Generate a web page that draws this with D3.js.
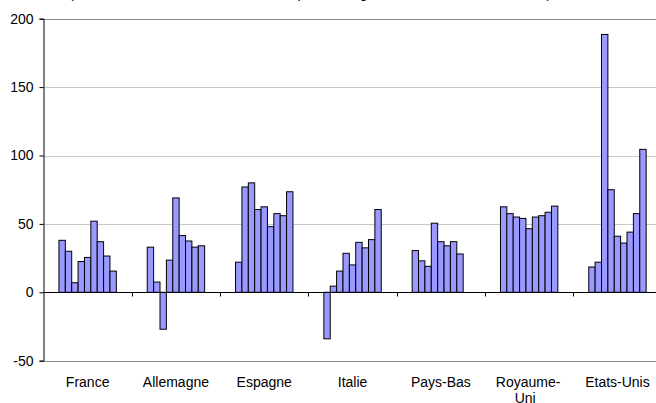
<!DOCTYPE html>
<html>
<head>
<meta charset="utf-8">
<script src="https://cdn.jsdelivr.net/npm/d3@7"></script>
<style>
  html, body { margin: 0; padding: 0; background: #fff; }
  svg { display: block; font-family: Arial, "Liberation Sans", sans-serif; }
</style>
</head>
<body>
<svg id="chart" width="656" height="403"></svg>
<script>
// Pays et séries annuelles (9 valeurs par pays, la dernière manque pour les Pays-Bas)
const countries = ["France", "Allemagne", "Espagne", "Italie", "Pays-Bas", "Royaume-Uni", "Etats-Unis"];
const france     = [38, 30, 7, 22.5, 25.5, 52, 37, 26.5, 15.5];
const allemagne  = [33, 7.5, -27, 23.5, 69, 41.5, 37.5, 33, 34];
const espagne    = [22, 77, 80, 60.5, 62.5, 48, 57.5, 56, 73.5];
const italie     = [-34, 4.5, 15.5, 28.5, 20, 36.5, 32.5, 38.5, 60.5];
const paysBas    = [30.5, 23, 19, 50.5, 37, 34, 37, 28, null];
const royaumeUni = [62.5, 57.5, 55, 54, 46.5, 55, 56, 58.5, 63];
const etatsUnis  = [18.5, 22, 188.5, 75, 41, 36, 44, 57.5, 104.5];
const seriesValues = [france, allemagne, espagne, italie, paysBas, royaumeUni, etatsUnis];
const yTicks = [-50, 0, 50, 100, 150, 200];
const titleText = "(Variation des crédits immobiliers en pourcentage du revenu, de 1995 à 2004)";

const svg = d3.select("#chart");

const left = 43.5, catWidth = 88.3;
const x = d3.scaleBand()
  .domain(countries)
  .range([left, left + catWidth * countries.length])
  .paddingInner(0).paddingOuter(0);

const y = d3.scaleLinear().domain([-50, 200]).range([360.7, 18.7]);

// bars inside each category: 9 slots, centred, occupying ~65% of the band
const groupWidth = 57.4;
const x1 = d3.scaleBand()
  .domain(d3.range(9))
  .range([-groupWidth / 2, groupWidth / 2])
  .paddingInner(0).paddingOuter(0);

// horizontal gridlines
svg.append("g")
  .selectAll("line")
  .data([50, 100, 150])
  .join("line")
  .attr("x1", left).attr("x2", 660)
  .attr("y1", d => Math.round(y(d)) + 0.5).attr("y2", d => Math.round(y(d)) + 0.5)
  .attr("stroke", "#c8c8c8").attr("stroke-width", 1);

// plot area border at top and bottom
svg.append("g")
  .selectAll("line")
  .data([200, -50])
  .join("line")
  .attr("x1", left).attr("x2", 660)
  .attr("y1", d => Math.round(y(d)) + 0.5).attr("y2", d => Math.round(y(d)) + 0.5)
  .attr("stroke", "#8a8a8a").attr("stroke-width", 1);

// bars
const groups = svg.append("g")
  .selectAll("g")
  .data(countries.map((c, i) => ({ country: c, values: seriesValues[i] })))
  .join("g")
  .attr("transform", d => `translate(${x(d.country) + x.bandwidth() / 2},0)`);

groups.selectAll("rect")
  .data(d => d.values.map((v, j) => ({ v, j })).filter(e => e.v !== null))
  .join("rect")
  .attr("x", e => x1(e.j))
  .attr("width", x1.bandwidth())
  .attr("y", e => y(Math.max(0, e.v)))
  .attr("height", e => Math.abs(y(e.v) - y(0)))
  .attr("fill", "#9999ff")
  .attr("stroke", "#000")
  .attr("stroke-width", 1);

// y axis (plain hyphen for negative values)
const yAxis = d3.axisLeft(y).tickValues(yTicks).tickSize(4).tickPadding(6)
  .tickFormat(d => String(d));
const gy = svg.append("g")
  .attr("transform", `translate(${left},0)`)
  .call(yAxis);
gy.select(".domain").attr("stroke", "#000");
gy.selectAll(".tick line").attr("stroke", "#000");
gy.selectAll(".tick text")
  .attr("font-size", 14)
  .attr("font-family", "Arial, 'Liberation Sans', sans-serif")
  .attr("fill", "#000");

// x axis along zero, category ticks pointing down
const y0 = Math.round(y(0)) + 0.5;
svg.append("line")
  .attr("x1", left).attr("x2", 660)
  .attr("y1", y0).attr("y2", y0)
  .attr("stroke", "#000");
svg.append("g")
  .selectAll("line")
  .data(countries.slice(1))
  .join("line")
  .attr("x1", d => Math.round(x(d)) + 0.5).attr("x2", d => Math.round(x(d)) + 0.5)
  .attr("y1", y0).attr("y2", y0 + 4)
  .attr("stroke", "#000");

// category labels along the bottom
const labels = svg.append("g")
  .selectAll("text")
  .data(countries)
  .join("text")
  .attr("x", d => x(d) + x.bandwidth() / 2)
  .attr("y", 387)
  .attr("text-anchor", "middle")
  .attr("font-size", 14)
  .attr("fill", "#000");
labels.each(function (d) {
  const t = d3.select(this);
  if (d === "Royaume-Uni") {
    t.append("tspan").attr("x", x(d) + x.bandwidth() / 2 - 1).text("Royaume-");
    t.append("tspan").attr("x", x(d) + x.bandwidth() / 2 - 4).attr("dy", 16).text("Uni");
  } else {
    t.text(d);
  }
});

// chart title (sits at the very top edge)
svg.append("text")
  .attr("x", 69)
  .attr("y", -2)
  .attr("font-size", 14)
  .attr("fill", "#000")
  .text(titleText);
</script>
</body>
</html>
